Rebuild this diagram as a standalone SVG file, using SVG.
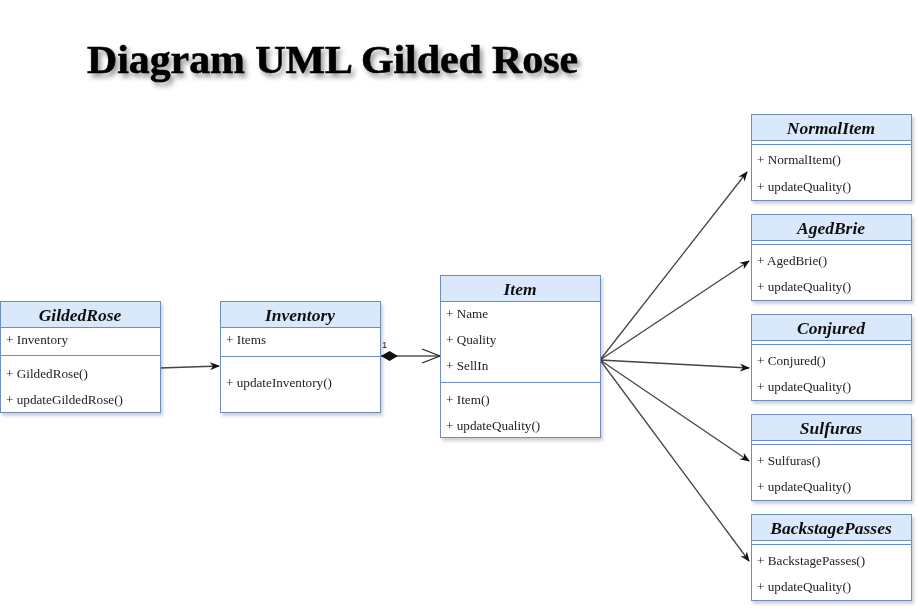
<svg xmlns="http://www.w3.org/2000/svg" width="922" height="614" viewBox="0 0 922 614">
<defs>
<filter id="sh" x="-10%" y="-10%" width="130%" height="130%"><feDropShadow dx="2" dy="3" stdDeviation="1.5" flood-color="#000" flood-opacity="0.18"/></filter>
<filter id="tsh" x="-5%" y="-20%" width="115%" height="160%"><feDropShadow dx="3" dy="4" stdDeviation="2.5" flood-color="#000" flood-opacity="0.4"/></filter>
<marker id="arr" viewBox="0 0 10 10" refX="9" refY="5" markerWidth="10" markerHeight="10" markerUnits="userSpaceOnUse" orient="auto"><path d="M0,1 L10,5 L0,9 L3,5 Z" fill="#111"/></marker>
<marker id="open" viewBox="0 0 20 16" refX="19" refY="8" markerWidth="20" markerHeight="16" markerUnits="userSpaceOnUse" orient="auto"><path d="M1,1 L19,8 L1,15" fill="none" stroke="#222" stroke-width="1.2"/></marker>
<marker id="dia" viewBox="0 0 20 12" refX="0" refY="6" markerWidth="20" markerHeight="12" markerUnits="userSpaceOnUse" orient="auto"><path d="M0,6 L8.5,1 L17,6 L8.5,11 Z" fill="#111"/></marker>
</defs>
<style>
.box{fill:#fff;stroke:#6c8ebf;stroke-width:1}
.hd{fill:#dae8fc;stroke:#6c8ebf;stroke-width:1}
.ln{stroke:#6c8ebf;stroke-width:1}
.t{font-family:"Liberation Serif","DejaVu Serif",serif;font-size:13.2px;fill:#222}
.h{font-family:"Liberation Serif","DejaVu Serif",serif;font-size:17.5px;font-weight:bold;font-style:italic;fill:#111;text-anchor:middle}
.e{fill:none;stroke:#444;stroke-width:1.3}
</style>
<text x="87" y="73" font-family="Liberation Serif, DejaVu Serif, serif" font-size="40" font-weight="bold" fill="#000" stroke="#000" stroke-width="0.6" filter="url(#tsh)" textLength="491" lengthAdjust="spacingAndGlyphs">Diagram UML Gilded Rose</text>

<g id="connectors">
<path class="e" d="M160,368 L219,366" marker-end="url(#arr)"/>
<path d="M381,356 L440,356" fill="none" stroke="#555" stroke-width="1.5" marker-start="url(#dia)" marker-end="url(#open)"/>
<text x="382" y="348" font-family="Liberation Sans, Arial, sans-serif" font-size="9" fill="#222">1</text>
<path class="e" d="M600,360 L747,172" marker-end="url(#arr)"/>
<path class="e" d="M600,360 L749,261" marker-end="url(#arr)"/>
<path class="e" d="M600,360 L749,368" marker-end="url(#arr)"/>
<path class="e" d="M600,360 L749,461" marker-end="url(#arr)"/>
<path class="e" d="M600,360 L749,561" marker-end="url(#arr)"/>
</g>

<g id="GildedRose" filter="url(#sh)">
<rect class="box" x="0.5" y="301.5" width="160" height="111"/>
<rect class="hd" x="0.5" y="301.5" width="160" height="26"/>
<text class="h" x="80" y="321">GildedRose</text>
<text class="t" x="6" y="344">+ Inventory</text>
<line class="ln" x1="0.5" y1="355.5" x2="160.5" y2="355.5"/>
<text class="t" x="6" y="378">+ GildedRose()</text>
<text class="t" x="6" y="404">+ updateGildedRose()</text>
</g>

<g id="Inventory" filter="url(#sh)">
<rect class="box" x="220.5" y="301.5" width="160" height="111"/>
<rect class="hd" x="220.5" y="301.5" width="160" height="26"/>
<text class="h" x="300" y="321">Inventory</text>
<text class="t" x="226" y="344">+ Items</text>
<line class="ln" x1="220.5" y1="356.5" x2="380.5" y2="356.5"/>
<text class="t" x="226" y="387">+ updateInventory()</text>
</g>

<g id="Item" filter="url(#sh)">
<rect class="box" x="440.5" y="275.5" width="160" height="162"/>
<rect class="hd" x="440.5" y="275.5" width="160" height="26"/>
<text class="h" x="520" y="295">Item</text>
<text class="t" x="446" y="318">+ Name</text>
<text class="t" x="446" y="344">+ Quality</text>
<text class="t" x="446" y="370">+ SellIn</text>
<line class="ln" x1="440.5" y1="382.5" x2="600.5" y2="382.5"/>
<text class="t" x="446" y="404">+ Item()</text>
<text class="t" x="446" y="430">+ updateQuality()</text>
</g>

<g id="NormalItem" filter="url(#sh)">
<rect class="box" x="751.5" y="114.5" width="160" height="86"/>
<rect class="hd" x="751.5" y="114.5" width="160" height="26"/>
<text class="h" x="831" y="134">NormalItem</text>
<line class="ln" x1="751.5" y1="144.5" x2="911.5" y2="144.5"/>
<text class="t" x="757" y="164">+ NormalItem()</text>
<text class="t" x="757" y="191">+ updateQuality()</text>
</g>

<g id="AgedBrie" filter="url(#sh)">
<rect class="box" x="751.5" y="214.5" width="160" height="86"/>
<rect class="hd" x="751.5" y="214.5" width="160" height="26"/>
<text class="h" x="831" y="234">AgedBrie</text>
<line class="ln" x1="751.5" y1="244.5" x2="911.5" y2="244.5"/>
<text class="t" x="757" y="265">+ AgedBrie()</text>
<text class="t" x="757" y="291">+ updateQuality()</text>
</g>

<g id="Conjured" filter="url(#sh)">
<rect class="box" x="751.5" y="314.5" width="160" height="86"/>
<rect class="hd" x="751.5" y="314.5" width="160" height="26"/>
<text class="h" x="831" y="334">Conjured</text>
<line class="ln" x1="751.5" y1="344.5" x2="911.5" y2="344.5"/>
<text class="t" x="757" y="365">+ Conjured()</text>
<text class="t" x="757" y="391">+ updateQuality()</text>
</g>

<g id="Sulfuras" filter="url(#sh)">
<rect class="box" x="751.5" y="414.5" width="160" height="86"/>
<rect class="hd" x="751.5" y="414.5" width="160" height="26"/>
<text class="h" x="831" y="434">Sulfuras</text>
<line class="ln" x1="751.5" y1="444.5" x2="911.5" y2="444.5"/>
<text class="t" x="757" y="465">+ Sulfuras()</text>
<text class="t" x="757" y="491">+ updateQuality()</text>
</g>

<g id="BackstagePasses" filter="url(#sh)">
<rect class="box" x="751.5" y="514.5" width="160" height="86"/>
<rect class="hd" x="751.5" y="514.5" width="160" height="26"/>
<text class="h" x="831" y="534">BackstagePasses</text>
<line class="ln" x1="751.5" y1="544.5" x2="911.5" y2="544.5"/>
<text class="t" x="757" y="565">+ BackstagePasses()</text>
<text class="t" x="757" y="591">+ updateQuality()</text>
</g>
</svg>
